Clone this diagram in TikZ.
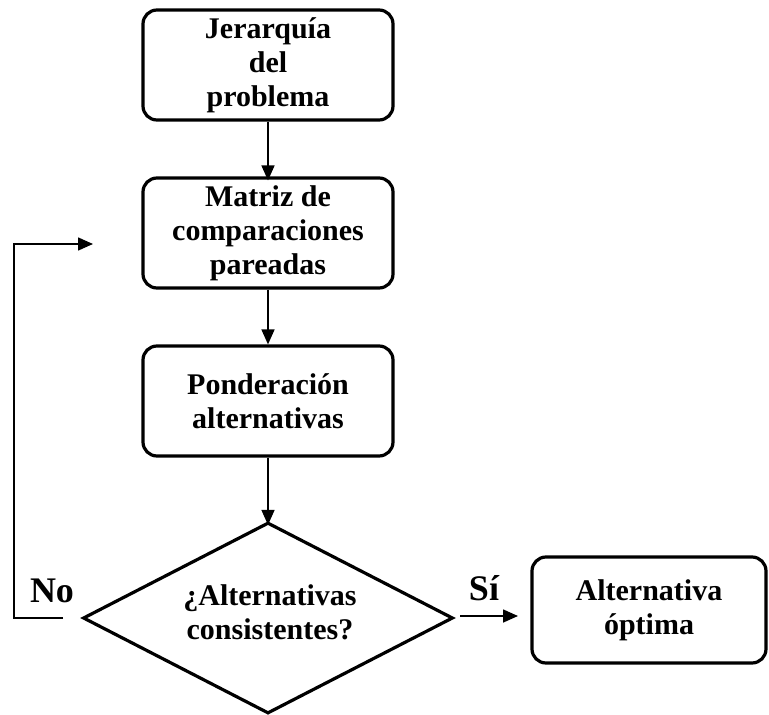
\documentclass[tikz,border=0pt]{standalone}
\usepackage{fontspec}
\setmainfont{Liberation Serif}
\usetikzlibrary{arrows.meta,shapes.geometric}
\begin{document}
\begin{tikzpicture}[x=1pt,y=-1pt,
  txt/.style={font=\bfseries\fontsize{30}{34}\selectfont,align=center},
  procbox/.style={draw,line width=3.2pt,rounded corners=14pt,inner sep=0pt,
    minimum width=250pt,minimum height=110pt,txt},
  decision/.style={draw,line width=3.2pt,diamond,aspect=1.94,inner sep=0pt,
    minimum width=370pt,minimum height=191pt,txt},
  arr/.style={line width=1.6pt,-{Triangle[length=15pt,width=13pt]}},
  lbl/.style={font=\bfseries\fontsize{36}{40}\selectfont,anchor=base}]
\useasboundingbox (0,0) rectangle (769,715);
\node[procbox] (b1) at (268,65) {Jerarquía\\del\\problema};
\node[procbox] (b2) at (268,233) {Matriz de\\comparaciones\\pareadas};
\node[procbox] (b3) at (268,401) {Ponderación\\alternativas};
\node[decision] (d) at (268,618) {};
\node[txt] (dt) at (270,612) {¿Alternativas\\consistentes?};
\node[procbox,minimum width=234pt,minimum height=106pt] (b4) at (649,610) {Alternativa\\óptima};
\node[lbl] (no) at (52,602) {No};
\node[lbl] (si) at (484,600) {Sí};
\coordinate (fbstart) at (63,618);
\coordinate (fbend) at (93,244);
\coordinate (sistart) at (460,616);
\coordinate (siend) at (518,616);
\draw[arr] (b1.south) -- ([yshift=-4pt]b2.north);
\draw[arr] (b2.south) -- (b3.north);
\draw[arr] (b3.south) -- ([yshift=-4pt]d.north);
\draw[arr] (sistart) -- (siend);
\draw[arr] (fbstart) -| (14,244) -- (fbend);
\end{tikzpicture}
\end{document}
